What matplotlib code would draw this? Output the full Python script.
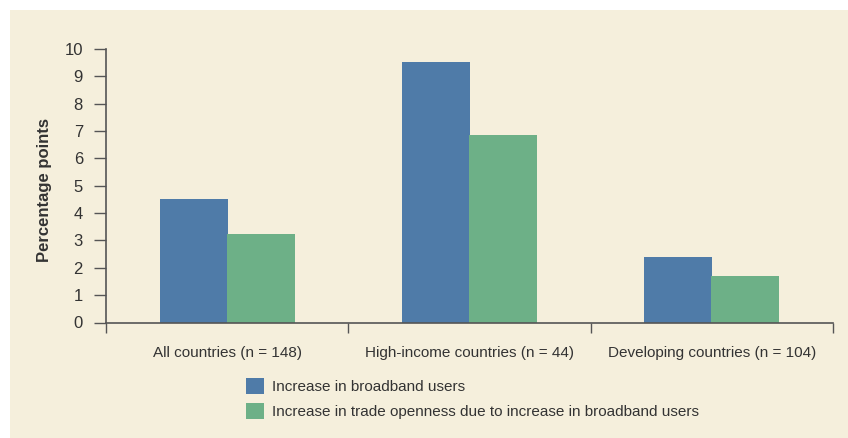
import numpy as np
import matplotlib
matplotlib.use("Agg")
import matplotlib.pyplot as plt
from matplotlib.patches import Rectangle, Patch

categories = ["All countries (n = 148)", "High-income countries (n = 44)",
              "Developing countries (n = 104)"]
broadband = [4.48, 9.52, 2.36]
trade = [3.20, 6.85, 1.70]
series_labels = ["Increase in broadband users",
                 "Increase in trade openness due to increase in broadband users"]
yticks = list(range(0, 11))

BG = "#F5EFDC"
BLUE = "#4F7BA8"
GREEN = "#6DB087"
TXT = "#333333"
AXC = "#555555"
FS = 11

plt.rcParams["font.family"] = ["Liberation Sans", "DejaVu Sans"]

fig = plt.figure(figsize=(8.48, 4.38), dpi=100)
fig.patch.set_facecolor("white")
fig.patches.append(Rectangle((10 / 848, 0), 1, 1 - 10 / 438,
                             transform=fig.transFigure, facecolor=BG,
                             edgecolor="none", zorder=-10))

ax = fig.add_axes([106 / 848, 115.5 / 438, 727 / 848, 273.5 / 438])
ax.set_facecolor("none")

x = np.arange(len(categories))
w = 0.277
# no snapping / antialiasing so the two bars in a group meet without a seam
bars_b = ax.bar(x - w / 2, broadband, w, color=BLUE, linewidth=0,
                antialiased=False, label=series_labels[0])
bars_g = ax.bar(x + w / 2, trade, w, color=GREEN, linewidth=0,
                antialiased=False, label=series_labels[1])
for p in list(bars_b) + list(bars_g):
    p.set_snap(False)

ax.set_xlim(-0.5, len(categories) - 0.5)
ax.set_ylim(0, 10)
ax.set_yticks(yticks)

for s in ("top", "right"):
    ax.spines[s].set_visible(False)
for s in ("left", "bottom"):
    ax.spines[s].set_color(AXC)
    ax.spines[s].set_linewidth(1.2)

ax.tick_params(axis="y", direction="out", length=8.6, width=1.0, color=AXC,
               pad=8, labelsize=12, labelcolor=TXT)
ax.set_xticks(x)
ax.set_xticklabels(categories)
ax.tick_params(axis="x", which="major", length=0, pad=17, labelsize=FS,
               labelcolor=TXT)
ax.set_xticks(np.arange(-0.5, len(categories)), minor=True)
ax.tick_params(axis="x", which="minor", direction="out", length=7.5,
               width=1.0, color=AXC)

ax.set_ylabel("Percentage points", fontsize=12, fontweight="bold", color=TXT)
ax.yaxis.set_label_coords(-0.074, 0.484)

handles = [Patch(facecolor=BLUE), Patch(facecolor=GREEN)]
fig.legend(handles, series_labels, loc="upper left",
           bbox_to_anchor=(246 / 848, 1 - 378 / 438), frameon=False,
           fontsize=FS, handlelength=1.2, handleheight=1.2,
           handletextpad=0.5, labelspacing=0.6, borderpad=0,
           borderaxespad=0, labelcolor=TXT)

fig.savefig("out.png", dpi=100, facecolor=fig.get_facecolor())
